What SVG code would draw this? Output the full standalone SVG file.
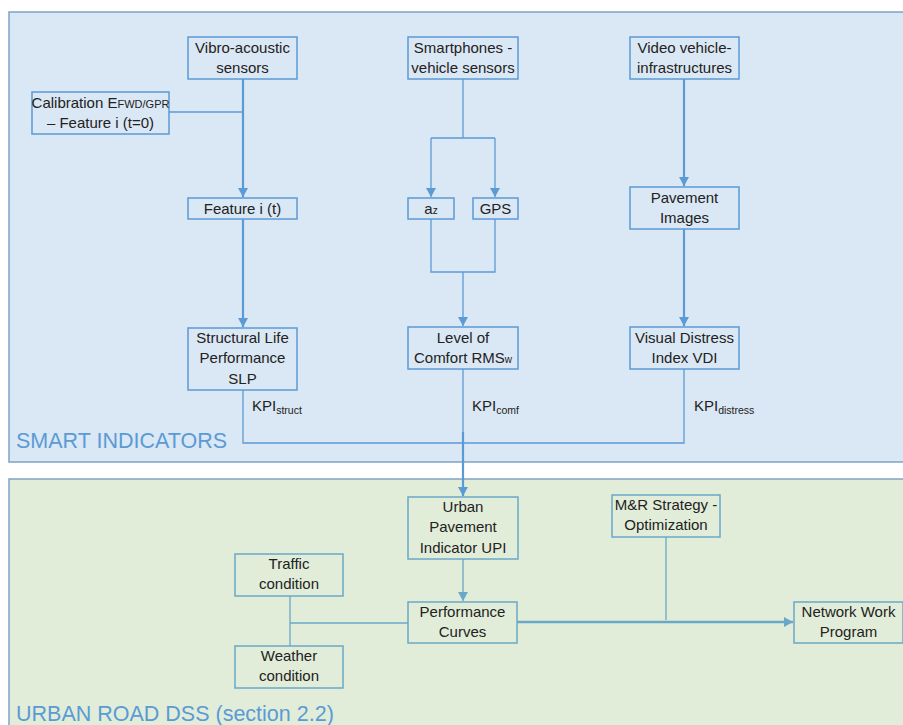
<svg xmlns="http://www.w3.org/2000/svg" width="903" height="725" viewBox="0 0 903 725">
<defs>
<style>
.t{font-family:"Liberation Sans",Arial,sans-serif;font-size:15px;fill:#222;text-anchor:middle}
.k{font-family:"Liberation Sans",Arial,sans-serif;font-size:15px;fill:#222}
.nb{fill:none;stroke:#5b9bd5;stroke-width:1.5}
.ng{fill:none;stroke:#6aa8c8;stroke-width:1.5}
.c{fill:none;stroke:#5b9bd5;stroke-width:1.3}
.cb{fill:none;stroke:#5b9bd5;stroke-width:2.2}
.cg{fill:none;stroke:#6aa8c8;stroke-width:1.3}
.cgb{fill:none;stroke:#6aa8c8;stroke-width:2.4}
.title{font-family:"Liberation Sans",Arial,sans-serif;font-size:21.5px;fill:#5b9bd5}
</style>
<marker id="ag" markerWidth="10" markerHeight="10" refX="9" refY="5" orient="auto" markerUnits="userSpaceOnUse" viewBox="0 0 10 10"><path d="M0,0 L9,5 L0,10 Z" fill="#6aa8c8"/></marker>
<marker id="ad" markerWidth="10" markerHeight="10" refX="9" refY="5" orient="auto" markerUnits="userSpaceOnUse" viewBox="0 0 10 10"><path d="M0,0 L9,5 L0,10 Z" fill="#5b9bd5"/></marker>
</defs>
<rect x="0" y="0" width="903" height="725" fill="#ffffff"/>
<g id="panel-smart">
<rect x="9" y="12" width="900" height="450" fill="#dae7f4" stroke="#7fa3c6" stroke-width="1.5"/>
<text class="title" x="16" y="448">SMART INDICATORS</text>
</g>
<g id="panel-dss">
<rect x="9" y="479" width="900" height="260" fill="#e1edd8" stroke="#7fa3c6" stroke-width="1.5"/>
<text class="title" x="16" y="721">URBAN ROAD DSS (section 2.2)</text>
</g>
<g id="connectors">
<path class="c" d="M169,112 H243"/>
<path class="cb" d="M243,79 V197" marker-end="url(#ad)"/>
<path class="cb" d="M243,219 V327" marker-end="url(#ad)"/>
<path class="c" d="M463,79 V138 M431,138 H495"/>
<path class="c" d="M431,138 V197" marker-end="url(#ad)"/>
<path class="c" d="M495,138 V197" marker-end="url(#ad)"/>
<path class="c" d="M431,219 V272 H495 V219 M463,272 V326" marker-end="url(#ad)"/>
<path class="cb" d="M684,79 V186" marker-end="url(#ad)"/>
<path class="cb" d="M684,229 V326" marker-end="url(#ad)"/>
<path class="c" d="M243,390 V443 H684 V369"/>
<path class="c" d="M463,369 V443"/>
<path class="cb" d="M463,432 V496" marker-end="url(#ad)"/>
<path class="cg" d="M463,559 V601" marker-end="url(#ag)"/>
<path class="cg" d="M290,596 V646 M290,623 H408"/>
<path class="cg" d="M666,537 V620"/>
<path class="cgb" d="M517,622 H793" marker-end="url(#ag)"/>
</g>
<g id="n-vibro"><rect class="nb" x="188" y="37" width="109" height="42"/><text class="t" x="242.5" y="53">Vibro-acoustic</text><text class="t" x="242.5" y="73">sensors</text></g>
<g id="n-calib"><rect class="nb" x="32" y="92" width="137" height="42"/><text class="t" x="100.5" y="108" font-size="14.5">Calibration E<tspan font-size="11">FWD/GPR</tspan></text><text class="t" x="100.5" y="128">– Feature i (t=0)</text></g>
<g id="n-feature"><rect class="nb" x="188" y="198" width="109" height="21"/><text class="t" x="242.5" y="214">Feature i (t)</text></g>
<g id="n-smart"><rect class="nb" x="408" y="37" width="110" height="42"/><text class="t" x="463" y="53">Smartphones  -</text><text class="t" x="463" y="73">vehicle sensors</text></g>
<g id="n-az"><rect class="nb" x="408" y="198" width="46" height="21"/><text class="t" x="431" y="214">a<tspan font-size="10">z</tspan></text></g>
<g id="n-gps"><rect class="nb" x="473" y="198" width="45" height="21"/><text class="t" x="495.5" y="214">GPS</text></g>
<g id="n-video"><rect class="nb" x="630" y="37" width="109" height="42"/><text class="t" x="684.5" y="53">Video vehicle-</text><text class="t" x="684.5" y="73">infrastructures</text></g>
<g id="n-pav"><rect class="nb" x="630" y="187" width="109" height="42"/><text class="t" x="684.5" y="203">Pavement</text><text class="t" x="684.5" y="223">Images</text></g>
<g id="n-slp"><rect class="nb" x="188" y="328" width="109" height="62"/><text class="t" x="242.5" y="343">Structural  Life</text><text class="t" x="242.5" y="363">Performance</text><text class="t" x="242.5" y="384">SLP</text></g>
<g id="n-comfort"><rect class="nb" x="408" y="327" width="110" height="42"/><text class="t" x="463" y="343">Level of</text><text class="t" x="463" y="363">Comfort  RMS<tspan font-size="10">w</tspan></text></g>
<g id="n-vdi"><rect class="nb" x="630" y="327" width="109" height="42"/><text class="t" x="684.5" y="343">Visual Distress</text><text class="t" x="684.5" y="363">Index VDI</text></g>
<g id="kpi-labels">
<text class="k" x="252" y="411">KPI<tspan font-size="10.5" dy="3">struct</tspan></text>
<text class="k" x="472" y="411">KPI<tspan font-size="10.5" dy="3">comf</tspan></text>
<text class="k" x="694" y="411">KPI<tspan font-size="10.5" dy="3">distress</tspan></text>
</g>
<g id="n-upi"><rect class="ng" x="408" y="497" width="110" height="62"/><text class="t" x="463" y="512">Urban</text><text class="t" x="463" y="532">Pavement</text><text class="t" x="463" y="553">Indicator UPI</text></g>
<g id="n-perf"><rect class="ng" x="408" y="602" width="109" height="41"/><text class="t" x="462.5" y="617">Performance</text><text class="t" x="462.5" y="637">Curves</text></g>
<g id="n-traffic"><rect class="ng" x="235" y="554" width="108" height="42"/><text class="t" x="289" y="569">Traffic</text><text class="t" x="289" y="589">condition</text></g>
<g id="n-weather"><rect class="ng" x="235" y="646" width="108" height="42"/><text class="t" x="289" y="661">Weather</text><text class="t" x="289" y="681">condition</text></g>
<g id="n-mr"><rect class="ng" x="612" y="495" width="108" height="42"/><text class="t" x="666" y="510">M&amp;R Strategy -</text><text class="t" x="666" y="530">Optimization</text></g>
<g id="n-nwp"><rect class="ng" x="794" y="602" width="109" height="41"/><text class="t" x="848.5" y="617">Network  Work</text><text class="t" x="848.5" y="637">Program</text></g>
</svg>
